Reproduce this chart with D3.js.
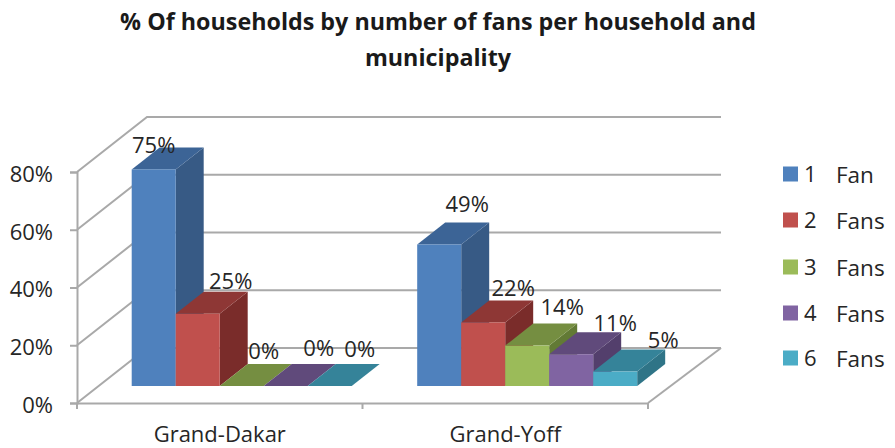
<!DOCTYPE html>
<html>
<head>
<meta charset="utf-8">
<style>
html,body{margin:0;padding:0;background:#fff;}
svg{display:block;}
text{font-family:"Open Sans",Lato,sans-serif;fill:#262626;}
</style>
<script src="https://cdn.jsdelivr.net/npm/d3@7"></script>
</head>
<body>
<svg id="c" width="895" height="448"></svg>
<script>
const titleLines = ["% Of households by number of fans per household and", "municipality"];
const categories = ["Grand-Dakar", "Grand-Yoff"];
const seriesNames = ["1 Fan", "2 Fans", "3 Fans", "4 Fans", "6 Fans"];
const grandDakar = [75, 25, 0, 0, 0];
const grandYoff = [49, 22, 14, 11, 5];
const yTicks = [0, 20, 40, 60, 80];
const frontColors = ["#4f81bd", "#c0504d", "#9bbb59", "#8064a2", "#4bacc6"];
const topColors = ["#3c6496", "#8e3735", "#758e41", "#604a7b", "#358399"];
const sideColors = ["#375a85", "#7a2c2a", "#627a35", "#533f6c", "#2f7487"];

// label nudges, layout only: [dx, dy] from the centre of the bar's front top edge
const labelNudge = [
  [[0, -26], [33, -34], [22, -36], [33, -39], [30, -38]],
  [[28, -42], [30, -36], [35, -40], [44, -32], [48, -33]]
];

const svg = d3.select("#c");
const grid = "#a9a9a9";
const depth = {x: 70, y: -55};
const barDepth = {x: 28, y: -22};
const floorLift = 17;

const y = d3.scaleLinear().domain([0, 80]).range([403, 172]);
const x = d3.scaleBand().domain(categories).range([77, 648]);
const inner = d3.scaleBand().domain(seriesNames).range([54.7, 274.7]);
const values = [grandDakar, grandYoff];

svg.append("g").selectAll("text").data(titleLines).join("text")
  .attr("x", 438).attr("y", (d, i) => 30 + i * 36)
  .attr("text-anchor", "middle")
  .style("font-size", "23.3px").style("font-weight", 700)
  .style("fill", "#1a1a1a").text(d => d);

// back wall and left wall lines
const walls = svg.append("g").attr("fill", "none").attr("stroke", grid).attr("stroke-width", 2);
yTicks.forEach(t => {
  const y0 = y(t), yb = y0 + depth.y;
  walls.append("path").attr("d", d3.line()([[77, y0], [77 + depth.x, yb], [648 + depth.x + 3, yb]]));
});
walls.append("path").attr("d", d3.line()([[648, 403], [648 + depth.x + 3, 403 + depth.y]]));

// axes
const yAxis = svg.append("g").attr("transform", "translate(77,0)")
  .call(d3.axisLeft(y).tickValues(yTicks).tickSize(7).tickPadding(17).tickFormat(d => d + "%"));
yAxis.select(".domain").attr("stroke", grid).attr("stroke-width", 2);
yAxis.selectAll("line").attr("stroke", grid).attr("stroke-width", 2);
yAxis.selectAll("text").style("font-size", "22px").style("fill", "#262626").attr("dy", "0.42em");

const xAxis = svg.append("g").attr("transform", "translate(0,403)")
  .call(d3.axisBottom(x).tickSize(0).tickPadding(23));
xAxis.select(".domain").attr("stroke", grid).attr("stroke-width", 2);
xAxis.selectAll("text").style("font-size", "22px").style("fill", "#262626");
const xEdges = [x.range()[0], x.range()[0] + x.step(), x.range()[1]];
xAxis.selectAll("line.edge").data(xEdges).join("line").attr("class", "edge")
  .attr("x1", d => d).attr("x2", d => d).attr("y1", 0).attr("y2", 6)
  .attr("stroke", grid).attr("stroke-width", 2);

// bars
const bars = svg.append("g");
const line = d3.line();
categories.forEach((cat, c) => {
  values[c].forEach((v, s) => {
    const x0 = x(cat) + inner(seriesNames[s]);
    const x1 = x0 + inner.bandwidth();
    const base = y(0) - floorLift;
    const top = y(v) - floorLift;
    const dx = barDepth.x, dy = barDepth.y;
    bars.append("path").attr("fill", sideColors[s])
      .attr("d", line([[x1, top], [x1 + dx, top + dy], [x1 + dx, base + dy], [x1, base]]) + "Z");
    bars.append("path").attr("fill", topColors[s])
      .attr("d", line([[x0, top], [x0 + dx, top + dy], [x1 + dx, top + dy], [x1, top]]) + "Z");
    bars.append("rect").attr("fill", frontColors[s])
      .attr("x", x0).attr("y", top).attr("width", x1 - x0).attr("height", base - top);
  });
});

// data labels
const labels = svg.append("g");
categories.forEach((cat, c) => {
  values[c].forEach((v, s) => {
    const cx = x(cat) + inner(seriesNames[s]) + inner.bandwidth() / 2;
    const top = y(v) - floorLift;
    labels.append("text")
      .attr("x", cx + labelNudge[c][s][0]).attr("y", top + labelNudge[c][s][1])
      .attr("text-anchor", "middle").attr("dy", "0.42em")
      .style("font-size", "22px").text(v + "%");
  });
});

// legend
const legend = svg.append("g").selectAll("g").data(seriesNames).join("g")
  .attr("transform", (d, i) => `translate(783,${[174, 220, 267, 313, 358][i]})`);
legend.append("rect").attr("x", 0).attr("y", -7.5).attr("width", 15).attr("height", 15)
  .attr("fill", (d, i) => frontColors[i]);
legend.append("text").attr("x", 21).attr("dy", "0.38em").style("font-size", "22px")
  .text(d => d.split(" ")[0]);
legend.append("text").attr("x", 53).attr("dy", "0.38em").style("font-size", "22.5px")
  .text(d => d.split(" ")[1]);
</script>
</body>
</html>
